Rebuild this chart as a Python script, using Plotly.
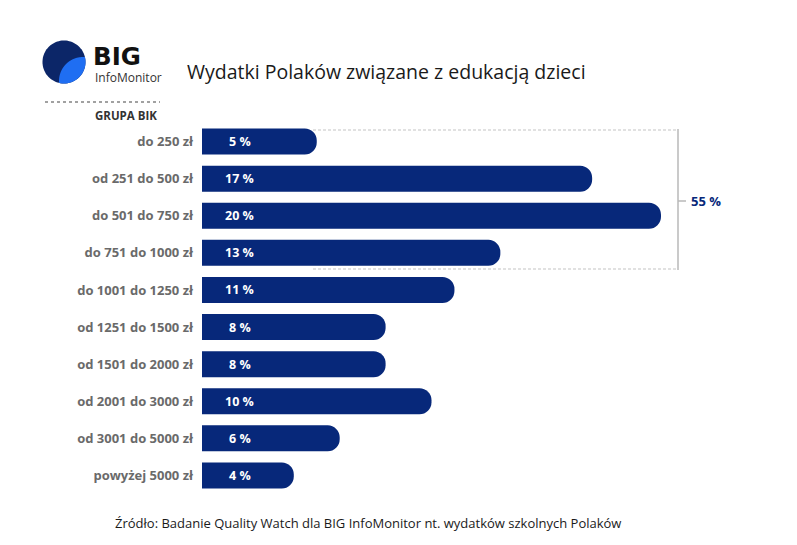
import math
import plotly.graph_objects as go

categories = ["do 250 zł", "od 251 do 500 zł", "do 501 do 750 zł", "do 751 do 1000 zł",
              "do 1001 do 1250 zł", "od 1251 do 1500 zł", "od 1501 do 2000 zł",
              "od 2001 do 3000 zł", "od 3001 do 5000 zł", "powyżej 5000 zł"]
values = [5, 17, 20, 13, 11, 8, 8, 10, 6, 4]
value_labels = ["5 %", "17 %", "20 %", "13 %", "11 %", "8 %", "8 %", "10 %", "6 %", "4 %"]
bracket_label = "55 %"
title_text = "Wydatki Polaków związane z edukacją dzieci"
source_text = "Źródło: Badanie Quality Watch dla BIG InfoMonitor nt. wydatków szkolnych Polaków"

W, H = 797, 545
ML, MR, MT, MB = 202, 57, 123, 51
PW, PH = W - ML - MR, H - MT - MB
XMAX = PW / 22.95

NAVY = "#07287a"

def px(x):
    return (x - ML) / PW

def py(y):
    return (H - MB - y) / PH

fig = go.Figure()
fig.add_trace(go.Bar(
    x=values, y=categories, orientation="h",
    marker=dict(color=NAVY, line=dict(width=0)),
    hoverinfo="skip",
))

annotations = []
for cat, lab in zip(categories, value_labels):
    annotations.append(dict(x=1.65, y=cat, xref="x", yref="y", text=lab, showarrow=False,
                            xanchor="center", yanchor="middle",
                            font=dict(family="Open Sans", size=12.5, color="white", weight="bold")))

annotations.append(dict(x=px(689), y=py(201), xref="paper", yref="paper", text=bracket_label,
                        showarrow=False, xanchor="left", yanchor="middle",
                        font=dict(family="Open Sans", size=13, color=NAVY, weight="bold")))
annotations.append(dict(x=px(185), y=py(72), xref="paper", yref="paper", text=title_text,
                        showarrow=False, xanchor="left", yanchor="middle",
                        font=dict(family="Open Sans", size=19.5, color="#1a1a1a")))
annotations.append(dict(x=px(368), y=py(523), xref="paper", yref="paper", text=source_text,
                        showarrow=False, xanchor="center", yanchor="middle",
                        font=dict(family="Open Sans", size=13, color="#1a1a1a")))
annotations.append(dict(x=px(91), y=py(56), xref="paper", yref="paper", text="BIG",
                        showarrow=False, xanchor="left", yanchor="middle",
                        font=dict(family="DejaVu Sans", size=24.5, color="#111111", weight="bold")))
annotations.append(dict(x=px(93), y=py(77), xref="paper", yref="paper", text="InfoMonitor",
                        showarrow=False, xanchor="left", yanchor="middle",
                        font=dict(family="Open Sans", size=12, color="#333333")))
annotations.append(dict(x=px(159), y=py(115), xref="paper", yref="paper", text="GRUPA BIK",
                        showarrow=False, xanchor="right", yanchor="middle",
                        font=dict(family="Open Sans", size=11.5, color="#333333", weight="bold")))

shapes = []
GRAY = "#c4c4c4"
for yy in (130, 269):
    shapes.append(dict(type="line", xref="paper", yref="paper", x0=px(313), x1=px(678),
                       y0=py(yy), y1=py(yy), line=dict(color=GRAY, width=1.2, dash="3px,2px")))
shapes.append(dict(type="line", xref="paper", yref="paper", x0=px(678), x1=px(678),
                   y0=py(129), y1=py(270), line=dict(color="#b8b8b8", width=1.5)))
shapes.append(dict(type="line", xref="paper", yref="paper", x0=px(678), x1=px(686),
                   y0=py(201), y1=py(201), line=dict(color="#b8b8b8", width=1.5)))
shapes.append(dict(type="line", xref="paper", yref="paper", x0=px(45), x1=px(160),
                   y0=py(102), y1=py(102), line=dict(color="#444444", width=1.2, dash="dot")))

# logo circle
cx, cy, r = 64, 62, 21.5
def poly_path(pts):
    return "M " + " L ".join(f"{px(a):.5f},{py(b):.5f}" for a, b in pts) + " Z"
main_circle = [(cx + r * math.cos(2 * math.pi * i / 90), cy + r * math.sin(2 * math.pi * i / 90)) for i in range(90)]
shapes.append(dict(type="path", xref="paper", yref="paper", path=poly_path(main_circle),
                   fillcolor="#0c2668", line=dict(width=0)))
# light crescent = intersection of main circle and a second circle (lower right)
c2x, c2y, r2 = 83, 81, 24
n = 720
main_in = []
for i in range(n):
    t = 2 * math.pi * i / n - math.pi  # around +45deg, no wrap
    x, y = cx + r * math.cos(t), cy + r * math.sin(t)
    if (x - c2x) ** 2 + (y - c2y) ** 2 <= r2 ** 2:
        main_in.append((t, x, y))
main_in.sort()
sec_in = []
for i in range(n):
    t = 2 * math.pi * i / n  # around 225deg, no wrap
    x, y = c2x + r2 * math.cos(t), c2y + r2 * math.sin(t)
    if (x - cx) ** 2 + (y - cy) ** 2 <= r ** 2:
        sec_in.append((t, x, y))
sec_in.sort()
poly = [(x, y) for _, x, y in main_in]
sec_pts = [(x, y) for _, x, y in sec_in]
d_start = (sec_pts[0][0] - poly[-1][0]) ** 2 + (sec_pts[0][1] - poly[-1][1]) ** 2
d_end = (sec_pts[-1][0] - poly[-1][0]) ** 2 + (sec_pts[-1][1] - poly[-1][1]) ** 2
poly += sec_pts if d_start < d_end else sec_pts[::-1]
shapes.append(dict(type="path", xref="paper", yref="paper", path=poly_path(poly),
                   fillcolor="#1f6ef2", line=dict(width=0)))

fig.update_layout(
    width=W, height=H,
    margin=dict(l=ML, r=MR, t=MT, b=MB),
    paper_bgcolor="white", plot_bgcolor="white",
    showlegend=False,
    bargap=0.3,
    barcornerradius=12,
    xaxis=dict(range=[0, XMAX], visible=False, fixedrange=True),
    yaxis=dict(categoryorder="array", categoryarray=categories, autorange="reversed",
               showgrid=False, showline=False, zeroline=False, ticks="",
               ticklabelstandoff=8, fixedrange=True,
               tickfont=dict(family="Open Sans", size=13, color="#6a6a6a", weight="bold")),
    annotations=annotations,
    shapes=shapes,
)

fig.write_html("out.html", config={"displayModeBar": False},
               post_script="document.body.style.margin='0';document.body.style.overflow='hidden';")
